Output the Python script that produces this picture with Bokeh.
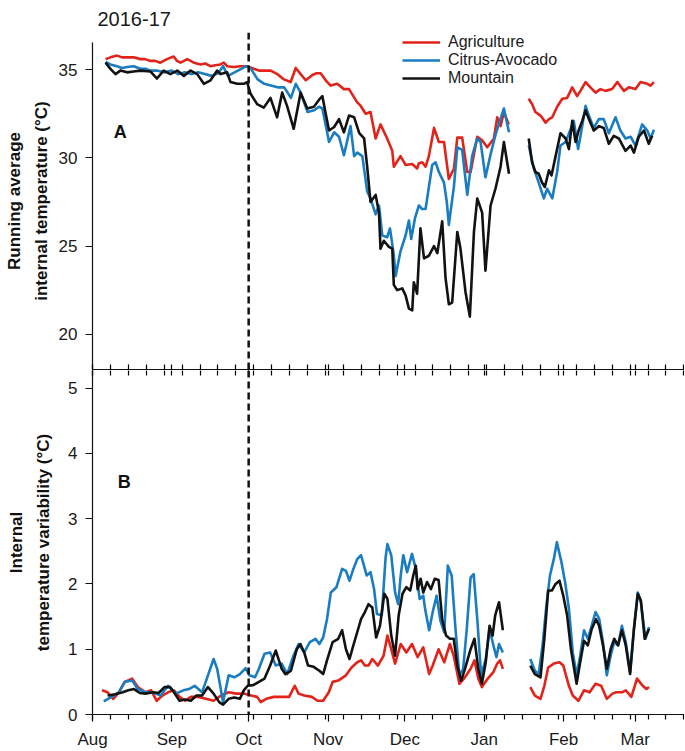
import math
from bokeh.plotting import figure
from bokeh.models import (Range1d, FixedTicker, Legend, LegendItem, Span, Label, LinearAxis)
from bokeh.layouts import column
from bokeh.embed import file_html
from bokeh.resources import INLINE

NaN = float("nan")
FONT = "Liberation Sans"

# ---- x axis: days since 1 Aug 2016 ----
month_days = [0, 31, 61, 92, 122, 153, 184, 212]
month_labels = ["Aug", "Sep", "Oct", "Nov", "Dec", "Jan", "Feb", "Mar"]
week_days = list(range(0, 232, 7))
oct_first = 61
season_title = "2016-17"

series_names = ["Agriculture", "Citrus-Avocado", "Mountain"]
series_colors = ["#e2231a", "#1a7cc1", "#121212"]

# ---- Panel A: running average internal temperature (°C); (day, value) ----
agri_a_early = [(5.1, 35.6), (7.0, 35.7), (9.6, 35.8), (11.5, 35.7), (13.5, 35.7), (16.1, 35.7), (18.7, 35.6),
                (20.5, 35.6), (22.6, 35.5), (24.5, 35.5), (26.5, 35.4), (29.1, 35.6), (31.7, 35.75), (33.0, 35.5),
                (34.4, 35.4), (37.0, 35.6), (39.6, 35.4), (42.2, 35.3), (44.0, 35.35), (46.1, 35.2), (48.0, 35.25),
                (50.0, 35.3), (51.3, 35.4), (52.6, 35.2), (55.2, 35.15), (57.8, 35.2), (60.4, 35.2), (63.0, 35.05),
                (65.0, 34.95), (67.0, 34.95), (69.6, 34.95), (72.2, 34.75), (74.8, 34.45), (77.4, 34.3), (79.4, 35.1),
                (81.3, 34.75), (83.3, 34.4), (85.9, 34.7), (87.5, 34.8), (89.1, 34.8), (91.1, 34.4), (93.0, 34.1),
                (95.6, 34.2), (98.2, 33.9), (100.2, 33.9), (103.4, 33.15), (104.7, 32.96), (106.7, 32.5),
                (108.6, 32.6), (110.6, 31.1), (112.5, 31.9), (115.1, 31.1), (117.1, 30.4), (117.7, 29.5),
                (120.3, 30.1), (122.3, 29.6), (124.9, 29.65), (126.8, 29.4), (127.5, 29.7), (128.8, 29.75),
                (130.1, 29.5), (131.4, 30.1), (133.4, 31.7), (135.3, 30.9), (137.3, 30.9), (139.2, 28.8),
                (141.2, 29.4), (142.5, 31.15), (144.4, 31.15), (146.4, 29.2), (147.7, 29.2), (150.3, 31.2),
                (152.2, 31.0), (154.2, 30.6), (156.8, 31.1), (158.1, 32.3), (159.4, 31.8), (160.7, 32.6),
                (162.6, 31.9)]
agri_a_late = [(170.4, 33.35), (171.7, 33.05), (173.0, 32.6), (175.0, 32.4), (177.0, 32.0), (178.3, 32.2),
               (179.6, 32.3), (181.5, 32.9), (183.5, 33.35), (185.4, 33.4), (187.4, 34.0), (189.3, 33.5),
               (190.6, 33.8), (192.6, 34.3), (194.5, 34.0), (196.5, 33.7), (198.4, 33.9), (200.4, 33.8),
               (203.0, 33.9), (205.0, 34.3), (207.6, 33.8), (209.5, 34.0), (212.1, 33.9), (214.1, 34.3),
               (216.7, 34.2), (218.0, 34.1), (219.3, 34.3)]

citrus_a_early = [(5.1, 35.45), (7.0, 35.3), (9.6, 35.2), (11.5, 35.1), (13.5, 35.15), (16.1, 35.2), (18.7, 35.05),
                  (20.8, 35.05), (22.6, 34.95), (25.0, 34.95), (28.3, 34.85), (30.9, 34.95), (33.5, 34.75),
                  (36.1, 34.85), (38.7, 34.75), (41.3, 34.85), (43.9, 34.75), (46.5, 34.65), (49.1, 34.8),
                  (51.0, 35.2), (52.9, 34.65), (55.5, 34.85), (58.1, 35.05), (60.0, 35.2), (61.9, 35.05),
                  (64.5, 34.45), (67.1, 34.2), (69.7, 34.1), (72.3, 34.0), (74.9, 34.0), (77.5, 33.4), (79.4, 34.2),
                  (81.3, 33.7), (84.0, 32.6), (86.6, 32.7), (88.5, 32.9), (89.8, 32.8), (91.1, 31.85), (92.4, 30.9),
                  (94.4, 31.45), (96.3, 31.2), (98.2, 30.15), (100.8, 31.8), (102.2, 30.1), (103.4, 30.3),
                  (105.4, 30.1), (107.3, 28.1), (108.6, 27.7), (110.6, 26.8), (111.9, 27.3), (113.2, 25.6),
                  (115.1, 25.5), (116.2, 26.0), (117.7, 24.5), (118.4, 23.3), (120.3, 24.7), (122.3, 25.6),
                  (123.6, 26.45), (124.5, 25.4), (126.0, 26.6), (127.5, 27.3), (128.8, 27.1), (130.1, 27.1),
                  (132.7, 29.6), (134.0, 29.75), (135.3, 29.2), (137.3, 28.6), (138.4, 27.5), (139.2, 26.2),
                  (141.2, 28.4), (142.5, 30.6), (144.4, 30.45), (146.4, 27.9), (148.3, 30.1), (150.3, 31.1),
                  (151.6, 30.9), (153.5, 28.9), (155.5, 30.2), (157.4, 31.3), (158.7, 31.9), (160.7, 32.8),
                  (162.7, 31.45)]
citrus_a_late = [(170.4, 30.7), (172.4, 29.4), (174.3, 28.6), (176.3, 27.7), (177.6, 28.25), (179.6, 27.7),
                 (181.5, 29.2), (182.8, 30.7), (184.8, 30.9), (186.7, 31.6), (188.0, 32.1), (189.7, 30.5),
                 (191.3, 31.8), (192.6, 32.95), (193.9, 32.4), (195.8, 31.7), (197.8, 32.2), (199.7, 32.2),
                 (201.7, 31.4), (204.3, 32.3), (206.2, 31.55), (208.2, 31.1), (210.2, 31.2), (212.1, 30.7),
                 (214.7, 31.9), (216.7, 31.55), (218.0, 31.1), (219.3, 31.6)]

mount_a_early = [(5.1, 35.4), (7.0, 35.05), (9.0, 34.75), (10.9, 34.95), (13.5, 34.85), (16.0, 34.9), (18.7, 34.95),
                 (22.6, 34.9), (25.2, 34.5), (27.8, 34.95), (30.4, 34.75), (33.1, 34.95), (35.7, 34.65),
                 (38.3, 34.95), (40.9, 34.75), (43.5, 34.2), (46.1, 34.4), (48.7, 34.95), (50.0, 34.75),
                 (52.6, 34.85), (53.9, 34.3), (56.5, 34.2), (59.1, 34.2), (60.4, 34.3), (61.7, 33.65),
                 (64.3, 33.05), (66.9, 32.85), (69.5, 33.4), (72.1, 32.3), (74.1, 33.7), (76.0, 32.95),
                 (78.6, 31.65), (81.3, 33.7), (83.9, 32.8), (86.5, 32.9), (88.5, 33.3), (89.8, 33.5), (91.1, 32.5),
                 (92.4, 31.55), (94.4, 31.75), (96.3, 32.2), (98.2, 31.45), (100.2, 32.4), (102.2, 32.3),
                 (104.2, 31.4), (106.1, 31.1), (107.3, 29.5), (108.6, 27.5), (110.6, 27.9), (111.9, 26.9),
                 (112.5, 24.85), (113.8, 25.3), (115.8, 24.95), (117.1, 24.85), (117.7, 22.8), (119.0, 22.5),
                 (121.0, 22.6), (122.3, 22.2), (123.6, 21.45), (124.9, 21.35), (125.5, 22.95), (126.8, 22.3),
                 (128.1, 26.0), (129.5, 24.3), (131.4, 24.45), (133.4, 25.0), (134.7, 24.6), (136.6, 26.4),
                 (137.9, 23.2), (139.2, 21.7), (140.5, 21.8), (142.5, 25.8), (143.7, 24.9), (145.7, 22.4),
                 (147.4, 21.0), (149.0, 25.8), (150.3, 27.7), (152.2, 26.9), (153.5, 23.6), (155.5, 27.3),
                 (157.4, 28.25), (159.4, 29.5), (160.7, 30.9), (162.7, 29.1)]
mount_a_late = [(170.4, 31.1), (171.7, 29.75), (173.0, 29.2), (174.3, 29.1), (175.6, 28.6), (176.7, 28.35),
                (178.3, 29.3), (179.3, 29.0), (180.9, 30.1), (182.8, 31.4), (184.8, 31.1), (186.1, 30.5),
                (187.4, 32.1), (188.7, 30.9), (190.0, 31.6), (191.3, 32.1), (192.6, 32.7), (193.9, 32.2),
                (195.8, 31.55), (197.8, 31.8), (199.7, 31.7), (201.7, 30.8), (203.6, 31.25), (205.6, 31.1),
                (208.2, 30.4), (210.2, 30.7), (211.5, 30.3), (213.4, 31.2), (215.4, 31.55), (217.3, 30.8),
                (218.6, 31.25)]

# ---- Panel B: internal temperature variability (°C); (day, value) ----
agri_b_early = [(3.7, 0.37), (5.9, 0.34), (8.1, 0.24), (10.3, 0.34), (12.6, 0.5), (15.5, 0.55), (17.7, 0.42),
                (20.7, 0.34), (22.9, 0.37), (25.1, 0.21), (27.3, 0.29), (29.5, 0.34), (31.8, 0.37), (34.0, 0.27),
                (36.2, 0.21), (38.4, 0.27), (41.4, 0.27), (44.3, 0.24), (47.3, 0.21), (50.2, 0.29), (53.2, 0.34),
                (56.1, 0.32), (59.1, 0.32), (62.0, 0.29), (64.3, 0.27), (65.7, 0.19), (67.9, 0.24), (70.9, 0.27),
                (73.9, 0.27), (76.8, 0.27), (79.0, 0.44), (80.5, 0.32), (82.7, 0.29), (85.7, 0.27), (87.9, 0.21),
                (90.1, 0.21), (92.3, 0.34), (93.8, 0.5), (96.0, 0.52), (99.0, 0.6), (101.2, 0.72), (103.4, 0.8),
                (104.9, 0.83), (106.4, 0.75), (107.8, 0.75), (109.3, 0.85), (111.5, 0.75), (113.7, 0.9),
                (115.2, 1.21), (116.7, 1.0), (118.2, 0.78), (120.4, 1.08), (122.6, 0.95), (124.8, 1.08),
                (127.0, 0.88), (129.2, 1.03), (131.5, 0.62), (132.9, 0.75), (135.2, 1.0), (137.4, 0.8),
                (139.6, 1.08), (141.1, 0.9), (143.3, 0.47), (145.5, 0.57), (147.7, 0.7), (149.2, 0.83),
                (150.7, 0.55), (152.1, 0.42), (154.4, 0.55), (156.6, 0.65), (158.1, 0.78), (159.2, 0.83),
                (160.3, 0.7)]
agri_b_late = [(171.0, 0.42), (172.8, 0.29), (175.0, 0.24), (176.5, 0.44), (178.0, 0.72), (180.2, 0.78),
               (182.4, 0.8), (183.9, 0.75), (186.1, 0.44), (187.6, 0.29), (189.8, 0.21), (192.0, 0.37),
               (194.2, 0.34), (196.5, 0.47), (198.7, 0.44), (200.9, 0.24), (203.1, 0.32), (204.6, 0.34),
               (206.8, 0.34), (208.3, 0.37), (210.5, 0.27), (212.7, 0.55), (214.9, 0.44), (216.4, 0.39),
               (217.4, 0.42)]

citrus_b_early = [(4.4, 0.2), (7.4, 0.27), (10.3, 0.34), (12.6, 0.5), (15.5, 0.52), (17.7, 0.39), (20.7, 0.34),
                  (23.6, 0.34), (26.6, 0.29), (29.5, 0.44), (32.5, 0.32), (35.5, 0.37), (37.7, 0.39), (39.9, 0.44),
                  (42.8, 0.34), (45.1, 0.6), (47.3, 0.85), (48.7, 0.7), (51.0, 0.19), (53.2, 0.6), (55.4, 0.57),
                  (57.6, 0.62), (59.8, 0.71), (61.3, 0.6), (63.5, 0.57), (65.0, 0.7), (67.2, 0.93), (69.4, 0.95),
                  (71.6, 0.75), (73.9, 0.78), (76.1, 0.62), (78.3, 0.88), (80.5, 1.08), (82.7, 0.95), (84.9, 1.11),
                  (87.1, 1.16), (88.6, 1.08), (90.1, 1.18), (91.6, 1.46), (93.1, 1.87), (95.3, 1.95), (97.5, 2.23),
                  (99.0, 2.2), (100.4, 2.05), (101.9, 2.23), (103.4, 2.38), (104.9, 2.44), (107.1, 2.13),
                  (108.6, 2.18), (110.0, 1.92), (111.1, 1.54), (113.0, 1.52), (114.5, 2.41), (115.2, 2.61),
                  (116.7, 2.44), (118.2, 1.87), (119.4, 1.69), (120.4, 2.13), (121.4, 2.44), (122.9, 2.18),
                  (124.8, 2.46), (126.3, 2.23), (127.8, 1.77), (129.2, 1.82), (130.0, 1.6), (131.5, 1.29),
                  (132.9, 1.57), (134.4, 1.82), (135.9, 1.44), (137.4, 1.26), (138.8, 2.28), (140.3, 2.13),
                  (141.8, 1.31), (143.3, 0.6), (144.8, 0.7), (146.2, 1.31), (147.7, 2.1), (148.9, 2.15),
                  (150.4, 1.41), (151.8, 0.6), (153.6, 0.85), (155.1, 1.31), (156.6, 1.06), (157.8, 0.88),
                  (158.8, 1.08), (160.3, 0.95)]
citrus_b_late = [(171.0, 0.85), (172.8, 0.67), (174.3, 0.62), (175.8, 1.06), (177.3, 1.67), (178.7, 2.13),
                 (180.2, 2.38), (181.4, 2.64), (183.2, 2.33), (184.6, 2.03), (186.1, 1.62), (187.6, 0.95),
                 (189.1, 0.6), (190.5, 0.9), (192.0, 1.29), (193.5, 1.16), (195.0, 1.36), (196.5, 1.57),
                 (197.9, 1.47), (199.4, 1.11), (200.9, 0.6), (202.4, 0.9), (203.8, 1.11), (205.3, 1.06),
                 (206.8, 1.36), (208.3, 1.11), (210.0, 0.65), (211.5, 1.31), (213.0, 1.87), (214.2, 1.72),
                 (216.0, 1.16), (217.4, 1.34)]

mount_b_early = [(5.9, 0.29), (8.9, 0.31), (11.8, 0.34), (14.0, 0.37), (16.2, 0.39), (18.5, 0.33), (20.7, 0.32),
                 (23.6, 0.34), (25.8, 0.33), (28.1, 0.42), (30.3, 0.42), (31.8, 0.34), (34.0, 0.21), (36.2, 0.23),
                 (38.4, 0.21), (40.6, 0.29), (42.8, 0.29), (45.1, 0.42), (47.3, 0.32), (49.5, 0.19), (51.0, 0.15),
                 (53.2, 0.24), (55.4, 0.26), (57.6, 0.24), (59.1, 0.37), (60.6, 0.44), (62.8, 0.45), (65.0, 0.5),
                 (67.2, 0.55), (69.4, 0.75), (71.6, 0.98), (73.9, 0.7), (75.3, 0.62), (77.5, 0.67), (79.8, 1.0),
                 (81.2, 1.08), (82.7, 0.95), (84.2, 0.75), (86.4, 0.73), (88.6, 0.67), (90.1, 0.62), (91.6, 0.83),
                 (93.8, 1.11), (96.0, 1.16), (97.5, 1.29), (99.0, 1.0), (100.4, 0.85), (101.9, 1.06), (103.4, 1.26),
                 (104.9, 1.46), (106.4, 1.57), (107.8, 1.69), (109.3, 1.64), (110.8, 1.18), (112.3, 1.36),
                 (114.0, 1.85), (115.2, 1.77), (116.7, 1.21), (118.2, 0.9), (119.6, 1.52), (121.1, 1.85),
                 (122.6, 1.95), (124.1, 1.9), (125.3, 2.13), (126.3, 2.28), (127.0, 1.92), (128.2, 2.08),
                 (129.2, 1.87), (130.7, 2.03), (132.2, 1.92), (133.7, 2.08), (135.2, 2.06), (136.6, 1.46),
                 (138.1, 1.21), (139.6, 1.16), (141.1, 1.16), (142.5, 0.75), (144.0, 0.52), (145.5, 0.7),
                 (147.7, 1.0), (149.2, 1.16), (150.7, 0.7), (152.1, 0.47), (153.6, 0.8), (155.1, 1.36),
                 (156.3, 1.21), (157.3, 1.52), (158.8, 1.72), (160.3, 1.29)]
mount_b_late = [(171.0, 0.75), (172.8, 0.62), (175.0, 0.57), (176.5, 1.16), (178.0, 1.9), (179.5, 1.9),
                (180.9, 2.0), (182.4, 2.05), (183.9, 1.82), (185.4, 1.52), (186.9, 1.0), (189.1, 0.47),
                (190.5, 0.8), (192.0, 1.13), (193.5, 1.06), (195.0, 1.31), (196.7, 1.46), (197.9, 1.36),
                (199.4, 1.06), (200.9, 0.7), (202.4, 1.0), (203.8, 1.16), (205.3, 1.06), (206.8, 1.29),
                (208.3, 1.06), (210.0, 0.62), (211.5, 1.31), (213.0, 1.85), (214.2, 1.75), (215.7, 1.16),
                (217.4, 1.31)]

a_ticks = [20, 25, 30, 35]
b_ticks = [0, 1, 2, 3, 4, 5]


def joined(early, late):
    xs = [d for d, _ in early] + [NaN] + [d for d, _ in late]
    ys = [v for _, v in early] + [NaN] + [v for _, v in late]
    return xs, ys


def style_common(p):
    p.xgrid.visible = False
    p.ygrid.visible = False
    p.outline_line_color = None
    p.background_fill_color = "white"
    p.border_fill_color = "white"


def style_y(ax, ticks, label, bounds, label_standoff):
    ax.ticker = FixedTicker(ticks=ticks, minor_ticks=[])
    ax.bounds = bounds
    ax.axis_line_width = 1.2
    ax.axis_line_color = "#111111"
    ax.major_tick_out = 7
    ax.major_tick_in = 0
    ax.minor_tick_out = 0
    ax.minor_tick_in = 0
    ax.major_tick_line_width = 1.2
    ax.major_tick_line_color = "#111111"
    ax.major_label_text_font = FONT
    ax.major_label_text_font_size = "17px"
    ax.major_label_text_color = "#1a1a1a"
    ax.major_label_standoff = 8
    ax.axis_label = label
    ax.axis_label_text_font = FONT
    ax.axis_label_text_font_size = "17px"
    ax.axis_label_text_font_style = "bold"
    ax.axis_label_text_color = "#111111"
    ax.axis_label_text_line_height = 1.4
    ax.axis_label_standoff = label_standoff


FRAME_W = 592
LEFT = 92
x_range = Range1d(0, FRAME_W / 2.56)

# ================= Panel A =================
p1 = figure(frame_width=FRAME_W, frame_height=337, x_range=x_range, y_range=Range1d(18.0, 37.11),
            output_backend="svg", toolbar_location=None,
            min_border_left=LEFT, min_border_right=0, min_border_top=32, min_border_bottom=1)
style_common(p1)
p1.title.text = season_title
p1.title.text_font = FONT
p1.title.text_font_size = "20px"
p1.title.text_font_style = "normal"
p1.title.text_color = "#1a1a1a"
p1.title.align = "left"
p1.title.vertical_align = "top"
p1.title.offset = 5
p1.title.standoff = 9

style_y(p1.yaxis[0], a_ticks, "Running average\ninternal temperature (°C)", (18.0, 36.57), 5)

xa = p1.xaxis[0]
xa.ticker = FixedTicker(ticks=month_days, minor_ticks=week_days)
xa.axis_line_width = 1.2
xa.axis_line_color = "#111111"
xa.major_tick_in = 5
xa.major_tick_out = 0
xa.minor_tick_in = 5
xa.minor_tick_out = 0
xa.major_tick_line_width = 1.2
xa.minor_tick_line_width = 1.2
xa.major_label_text_font_size = "0px"
xa.major_label_standoff = 0
xa.major_label_overrides = {d: "" for d in month_days}

p1.add_layout(Span(location=oct_first, dimension="height", line_color="#111111",
                   line_width=2.5, line_dash="7 4"))

a_sets = [(agri_a_early, agri_a_late), (citrus_a_early, citrus_a_late), (mount_a_early, mount_a_late)]
a_renderers = []
for (early, late), color in zip(a_sets, series_colors):
    xs, ys = joined(early, late)
    a_renderers.append(p1.line(xs, ys, line_color=color, line_width=2.6, line_join="round"))

legend = Legend(items=[LegendItem(label=n, renderers=[r]) for n, r in zip(series_names, a_renderers)],
                location=(310, 282), orientation="vertical",
                border_line_color=None, background_fill_alpha=0,
                padding=0, margin=0, spacing=0,
                glyph_width=38, glyph_height=18, label_height=18, label_standoff=8,
                label_text_font=FONT, label_text_font_size="16px", label_text_color="#1a1a1a")
p1.add_layout(legend)

p1.add_layout(Label(x=8.3, y=31.46, text="A", text_font=FONT, text_font_size="18px",
                    text_font_style="bold", text_color="#111111", text_baseline="alphabetic"))

# ================= Panel B =================
p2 = figure(frame_width=FRAME_W, frame_height=344, x_range=x_range, y_range=Range1d(0, 5.27),
            output_backend="svg", toolbar_location=None,
            min_border_left=LEFT, min_border_right=0, min_border_top=0, min_border_bottom=0)
style_common(p2)
style_y(p2.yaxis[0], b_ticks, "Internal\ntemperature variability (°C)", (0, 5.27), 12)

xb = p2.xaxis[0]
xb.ticker = FixedTicker(ticks=month_days, minor_ticks=week_days)
xb.axis_line_width = 1.2
xb.axis_line_color = "#111111"
xb.major_tick_in = 0
xb.major_tick_out = 7
xb.minor_tick_in = 0
xb.minor_tick_out = 5
xb.major_tick_line_width = 1.2
xb.minor_tick_line_width = 1.2
xb.major_label_overrides = {d: t for d, t in zip(month_days, month_labels)}
xb.major_label_text_font = FONT
xb.major_label_text_font_size = "17px"
xb.major_label_text_color = "#1a1a1a"
xb.major_label_standoff = 8

top_ax = LinearAxis(ticker=FixedTicker(ticks=month_days, minor_ticks=week_days),
                    axis_line_color=None, major_tick_in=5, major_tick_out=0,
                    minor_tick_in=5, minor_tick_out=0, major_tick_line_width=1.2,
                    minor_tick_line_width=1.2, major_label_text_font_size="0px",
                    major_label_standoff=0, major_label_overrides={d: "" for d in month_days})
p2.add_layout(top_ax, "above")

p2.add_layout(Span(location=oct_first, dimension="height", line_color="#111111",
                   line_width=2.5, line_dash="7 4"))

b_sets = [(agri_b_early, agri_b_late), (citrus_b_early, citrus_b_late), (mount_b_early, mount_b_late)]
for (early, late), color in zip(b_sets, series_colors):
    xs, ys = joined(early, late)
    p2.line(xs, ys, line_color=color, line_width=2.6, line_join="round")

p2.add_layout(Label(x=9.9, y=3.56, text="B", text_font=FONT, text_font_size="18px",
                    text_font_style="bold", text_color="#111111", text_baseline="alphabetic"))

layout = column(p1, p2, spacing=0)
open("out.html", "w").write(file_html(layout, INLINE))
